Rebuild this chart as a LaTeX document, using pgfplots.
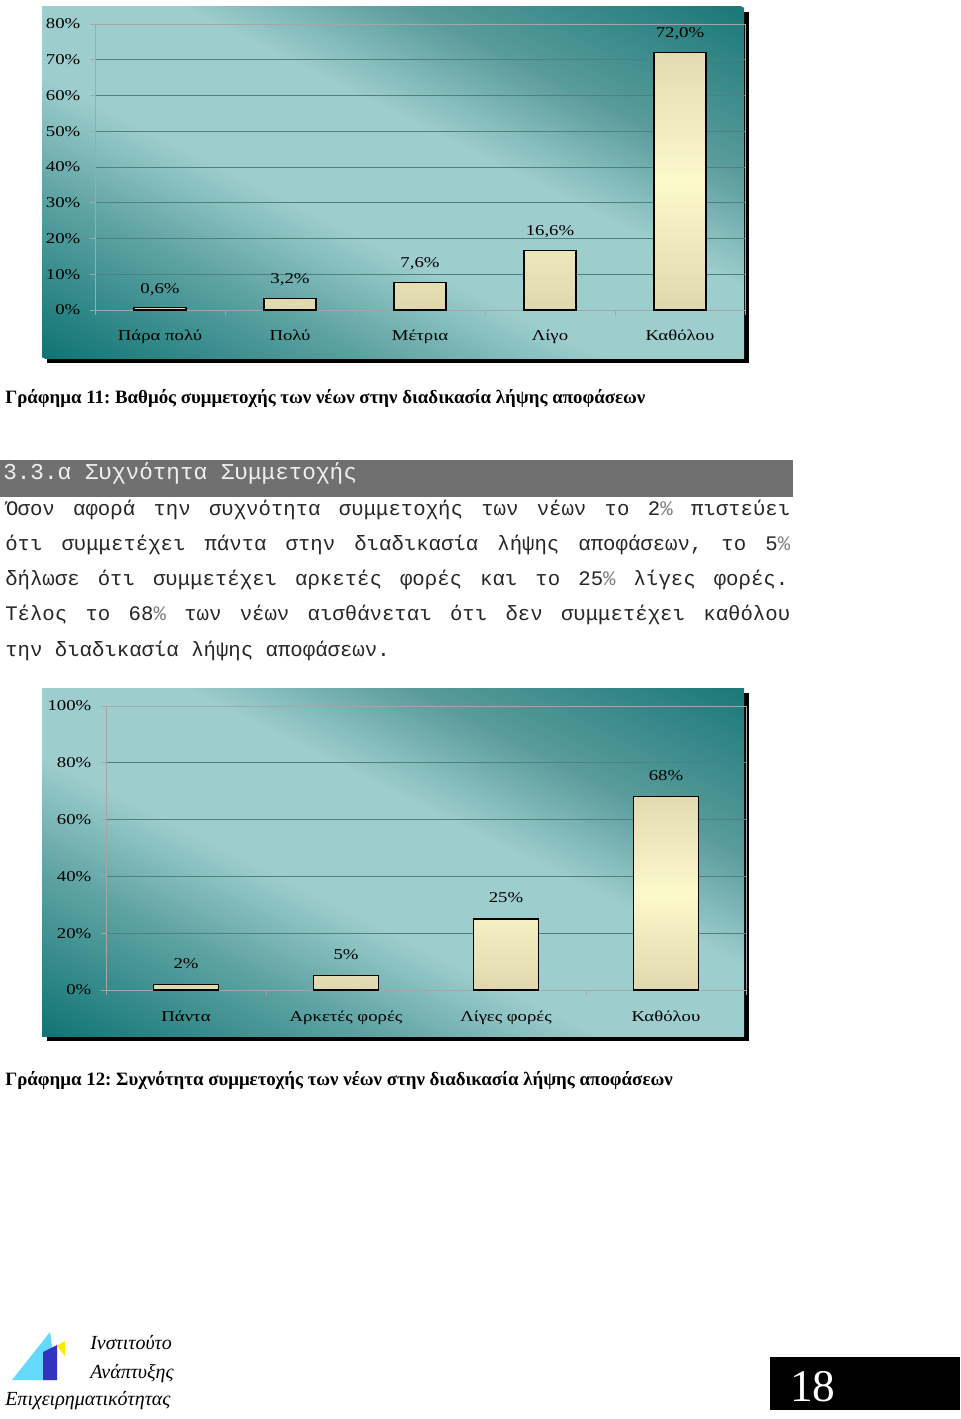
\documentclass[border=0pt]{standalone}
\usepackage{pgfplots}
\pgfplotsset{compat=1.18}
\usepackage{fontspec}
\setmainfont{Liberation Serif}
\newfontfamily\chartfont{Liberation Serif}[FakeStretch=1.25]
\newfontfamily\monofont{Liberation Mono}

\definecolor{tealdark}{HTML}{0F7474}
\definecolor{tealmid}{HTML}{5FA3A3}
\definecolor{teallight}{HTML}{9DCDCD}
\definecolor{tealmidtr}{HTML}{5A9C9C}
\definecolor{tealtr}{HTML}{1A7878}
\definecolor{gridc}{HTML}{4E8080}
\definecolor{bartop}{HTML}{E2DBB0}
\definecolor{barmid}{HTML}{FCF9CB}
\definecolor{barbot}{HTML}{DFD8AC}
\definecolor{headgray}{HTML}{707070}

% background of the chart areas: dark corners bottom left and top right
\pgfdeclarehorizontalshading{tealbg}{100bp}{color(0bp)=(tealdark); color(25bp)=(tealdark);
  color(37bp)=(tealmid); color(45bp)=(teallight); color(55bp)=(teallight);
  color(63bp)=(tealmidtr); color(75bp)=(tealtr); color(100bp)=(tealtr)}

\newcommand\pc{\textcolor{gray}{\%}}
\newcommand\chartsize{\chartfont\fontsize{11.25}{13}\selectfont}

\pgfplotsset{
  excelbars/.style={
    scale only axis,
    ybar,
    axis line style={draw=gray!70, line width=0.6pt},
    ymajorgrids,
    grid style={gridc, line width=0.6pt},
    tick pos=left,
    tick align=outside,
    major tick length=4pt,
    tick style={draw=gray!70, line width=0.6pt},
    x tick label as interval,
    ymin=0,
    enlargelimits=false,
    tick label style={font=\chartsize, text=black},
    yticklabel style={xshift=-3.5pt},
    nodes near coords,
    point meta=explicit symbolic,
    every node near coord/.append style={font=\chartsize, text=black, inner sep=0pt, anchor=south},
  },
  excelbar/.style={draw=black, line width=0.8pt, top color=bartop, bottom color=barbot, middle color=barmid},
}

\begin{document}
\frenchspacing
\begin{tikzpicture}[x=0.75pt, y=-0.75pt]
\path[use as bounding box] (0,0) rectangle (960,1419);
\fill[white] (0,0) rectangle (960,1419);

% ---- chart 11 ----
\fill[black] (47,12) rectangle (749,363);
\begin{scope}
\clip (42,7) rectangle (744,358);
\begin{scope}[transform canvas={shift={(294.75pt,-136.875pt)}, rotate=63.5}]
\shade[shading=tealbg] (-234.75pt,-340pt) rectangle (234.75pt,340pt);
\end{scope}
\end{scope}
\begin{axis}[excelbars,
    at={(71.25pt,-232.5pt)}, anchor=south west,
    width=487.5pt, height=214.5pt,
    bar width=39pt,
    xmin=-0.5, xmax=4.5, ymax=80,
    xtick={-0.5,0.5,...,4.5},
    xticklabels={Πάρα πολύ, Πολύ, Μέτρια, Λίγο, Καθόλου},
    ytick={0,10,...,80},
    yticklabels={0\%,10\%,20\%,30\%,40\%,50\%,60\%,70\%,80\%},
    every node near coord/.append style={yshift=9pt},
    xticklabel style={yshift=-7.5pt},
  ]
\addplot[excelbar] coordinates {
  (0,0.6) [0,6\%]
  (1,3.2) [3,2\%]
  (2,7.6) [7,6\%]
  (3,16.6) [16,6\%]
  (4,72.0) [72,0\%]
};
\end{axis}
\node[anchor=base west, inner sep=0, font=\bfseries\fontsize{14.15}{16}\selectfont] at (5,403)
  {Γράφημα 11: Βαθμός συμμετοχής των νέων στην διαδικασία λήψης αποφάσεων};

% ---- section heading and text ----
\fill[headgray] (0,460) rectangle (793,497);
\node[anchor=base west, inner sep=0, text=white!94!black, font=\monofont\fontsize{17}{20}\selectfont] at (3,479)
  {3.3.α Συχνότητα Συμμετοχής};
\begin{scope}[every node/.style={anchor=base west, inner sep=0, text=black!85, font=\monofont\fontsize{15.5}{18}\selectfont}]
\node at (5,515) {\spaceskip=9.3pt plus 1fil\relax\makebox[588.75pt][s]{Όσον αφορά την συχνότητα συμμετοχής των νέων το 2\pc{} πιστεύει}};
\node at (5,550) {\spaceskip=9.3pt plus 1fil\relax\makebox[588.75pt][s]{ότι συμμετέχει πάντα στην διαδικασία λήψης αποφάσεων, το 5\pc}};
\node at (5,585) {\spaceskip=9.3pt plus 1fil\relax\makebox[587.25pt][s]{δήλωσε ότι συμμετέχει αρκετές φορές και το 25\pc{} λίγες φορές.}};
\node at (5,620) {\spaceskip=9.3pt plus 1fil\relax\makebox[588.75pt][s]{Τέλος το 68\pc{} των νέων αισθάνεται ότι δεν συμμετέχει καθόλου}};
\node at (5,656) {την διαδικασία λήψης αποφάσεων.};
\end{scope}

% ---- chart 12 ----
\fill[black] (47,693) rectangle (749,1041);
\begin{scope}
\clip (42,688) rectangle (744,1036);
\begin{scope}[transform canvas={shift={(294.75pt,-646.5pt)}, rotate=63.5}]
\shade[shading=tealbg] (-234.75pt,-340pt) rectangle (234.75pt,340pt);
\end{scope}
\end{scope}
\begin{axis}[excelbars,
    at={(79.5pt,-742.5pt)}, anchor=south west,
    width=480pt, height=213pt,
    bar width=48.75pt,
    xmin=-0.5, xmax=3.5, ymax=100,
    xtick={-0.5,0.5,...,3.5},
    xticklabels={Πάντα, Αρκετές φορές, Λίγες φορές, Καθόλου},
    ytick={0,20,...,100},
    yticklabels={0\%,20\%,40\%,60\%,80\%,100\%},
    every node near coord/.append style={yshift=11.5pt},
    xticklabel style={yshift=-8.25pt},
  ]
\addplot[excelbar] coordinates {
  (0,2) [2\%]
  (1,5) [5\%]
  (2,25) [25\%]
  (3,68) [68\%]
};
\end{axis}
\node[anchor=base west, inner sep=0, font=\bfseries\fontsize{14.15}{16}\selectfont] at (5,1085)
  {Γράφημα 12: Συχνότητα συμμετοχής των νέων στην διαδικασία λήψης αποφάσεων};

% ---- logo ----
\fill[blue!25!cyan!60] (12,1380) -- (50,1332) -- (57,1380) -- cycle;
\fill[blue!70!black!80] (43,1352) -- (57,1345) -- (57,1380) -- (43,1380) -- cycle;
\fill[yellow!90!orange] (57,1346) -- (65,1341) -- (65,1356) -- cycle;
\begin{scope}[every node/.style={anchor=base west, inner sep=0, font=\itshape\fontsize{15}{17}\selectfont}]
\node at (90,1349) {Ινστιτούτο};
\node at (90,1378) {Ανάπτυξης};
\node at (5,1405) {Επιχειρηματικότητας};
\end{scope}

% ---- page number ----
\fill[black] (770,1357) rectangle (960,1410);
\node[anchor=base west, inner sep=0, text=white, font=\fontsize{34}{34}\selectfont] at (790,1401) {18};
\end{tikzpicture}
\end{document}
